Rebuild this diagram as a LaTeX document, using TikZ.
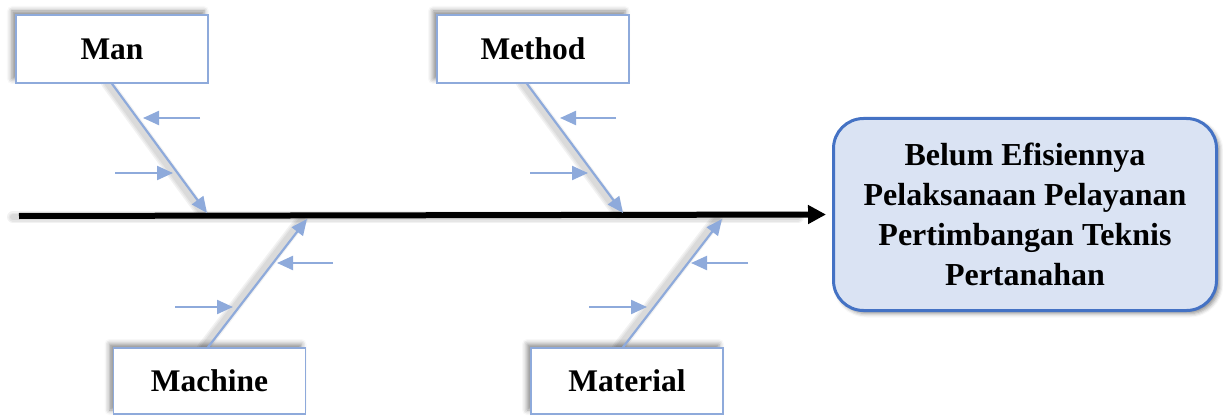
\documentclass[tikz,border=0pt]{standalone}
\usepackage{fontspec}
\setmainfont{Liberation Serif}
\usetikzlibrary{arrows.meta,shadows.blur,calc}
\definecolor{bone}{HTML}{8EAADB}
\definecolor{effborder}{HTML}{4472C4}
\definecolor{efffill}{HTML}{DAE3F3}
\tikzset{
  catbox/.style={draw=bone, line width=1.5pt, fill=white, minimum width=192pt,
    minimum height=68pt, inner sep=0pt, font=\fontsize{31.5}{38}\selectfont\bfseries,
    blur shadow={shadow xshift=-4pt, shadow yshift=4pt, shadow blur radius=5pt, shadow opacity=45}},
  effbox/.style={draw=effborder, line width=3pt, fill=efffill, rounded corners=30pt,
    minimum width=383pt, minimum height=192pt, inner sep=0pt, align=center,
    font=\fontsize{32}{40}\selectfont\bfseries,
    blur shadow={shadow xshift=3pt, shadow yshift=-3pt, shadow blur radius=4pt, shadow opacity=45}},
  bonearrow/.style={draw=bone, line width=2.2pt, -{Triangle[length=16pt,width=14pt]}},
  spinearrow/.style={draw=black, line width=6pt, -{Triangle[length=18pt,width=18pt]}},
  lineshadow/.style={draw=black, opacity=0.05, line width=#1, line cap=round},
  lineshadow/.default=5pt,
}
\begin{document}
\begin{tikzpicture}[x=1pt,y=-1pt]
\useasboundingbox (0,0) rectangle (1223,417);

% coordinates
\coordinate (tail) at (19,216);
\coordinate (manS) at (207,213);
\coordinate (methodS) at (623,213);
\coordinate (machineS) at (307,219);
\coordinate (materialS) at (722,219);

\coordinate (manA1) at (200,118); \coordinate (manT1) at (143,118);
\coordinate (manA2) at (115,173); \coordinate (manT2) at (173,173);
\coordinate (metA1) at (616,118); \coordinate (metT1) at (560,118);
\coordinate (metA2) at (530,173); \coordinate (metT2) at (588,173);
\coordinate (macA1) at (333,263); \coordinate (macT1) at (277,263);
\coordinate (macA2) at (175,307); \coordinate (macT2) at (233,307);
\coordinate (matA1) at (748,263); \coordinate (matT1) at (691,263);
\coordinate (matA2) at (589,307); \coordinate (matT2) at (647,307);

% effect box
\node[effbox] (effect) at (1025,214.5) {Belum Efisiennya\\Pelaksanaan Pelayanan\\Pertimbangan Teknis\\Pertanahan};

\path (112,49) coordinate (manC) (533,49) coordinate (methodC)
      (209.5,381) coordinate (machineC) (627,381) coordinate (materialC);

% soft line shadows
\foreach \w in {12pt,9pt,6pt}{
  \draw[lineshadow=\w] ([shift={(-6,1)}]tail) -- ([shift={(-2,1)}]800,216);
  \draw[lineshadow=\w] ([shift={(-5,0)}]112,83) -- ([shift={(-5,0)}]manS);
  \draw[lineshadow=\w] ([shift={(-5,0)}]527,83) -- ([shift={(-5,0)}]methodS);
  \draw[lineshadow=\w] ([shift={(-5,0)}]208,348) -- ([shift={(-5,0)}]machineS);
  \draw[lineshadow=\w] ([shift={(-5,0)}]623,348) -- ([shift={(-5,0)}]materialS);
}

% category boxes
\node[catbox] (man) at (manC) {Man};
\node[catbox] (method) at (methodC) {Method};
\node[catbox, minimum height=66pt] (machine) at (machineC) {Machine};
\node[catbox, minimum height=66pt] (material) at (materialC) {Material};

% spine
\draw[spinearrow, shorten >=6pt] (tail) -- (effect.west);

% bones
\draw[bonearrow] (man.south) -- (manS);
\draw[bonearrow] ([xshift=-6pt]method.south) -- (methodS);
\draw[bonearrow] ([xshift=-1.5pt]machine.north) -- (machineS);
\draw[bonearrow] ([xshift=-4pt]material.north) -- (materialS);

% sub-cause arrows
\draw[bonearrow] (manA1) -- (manT1);
\draw[bonearrow] (manA2) -- (manT2);
\draw[bonearrow] (metA1) -- (metT1);
\draw[bonearrow] (metA2) -- (metT2);
\draw[bonearrow] (macA1) -- (macT1);
\draw[bonearrow] (macA2) -- (macT2);
\draw[bonearrow] (matA1) -- (matT1);
\draw[bonearrow] (matA2) -- (matT2);
\end{tikzpicture}
\end{document}
